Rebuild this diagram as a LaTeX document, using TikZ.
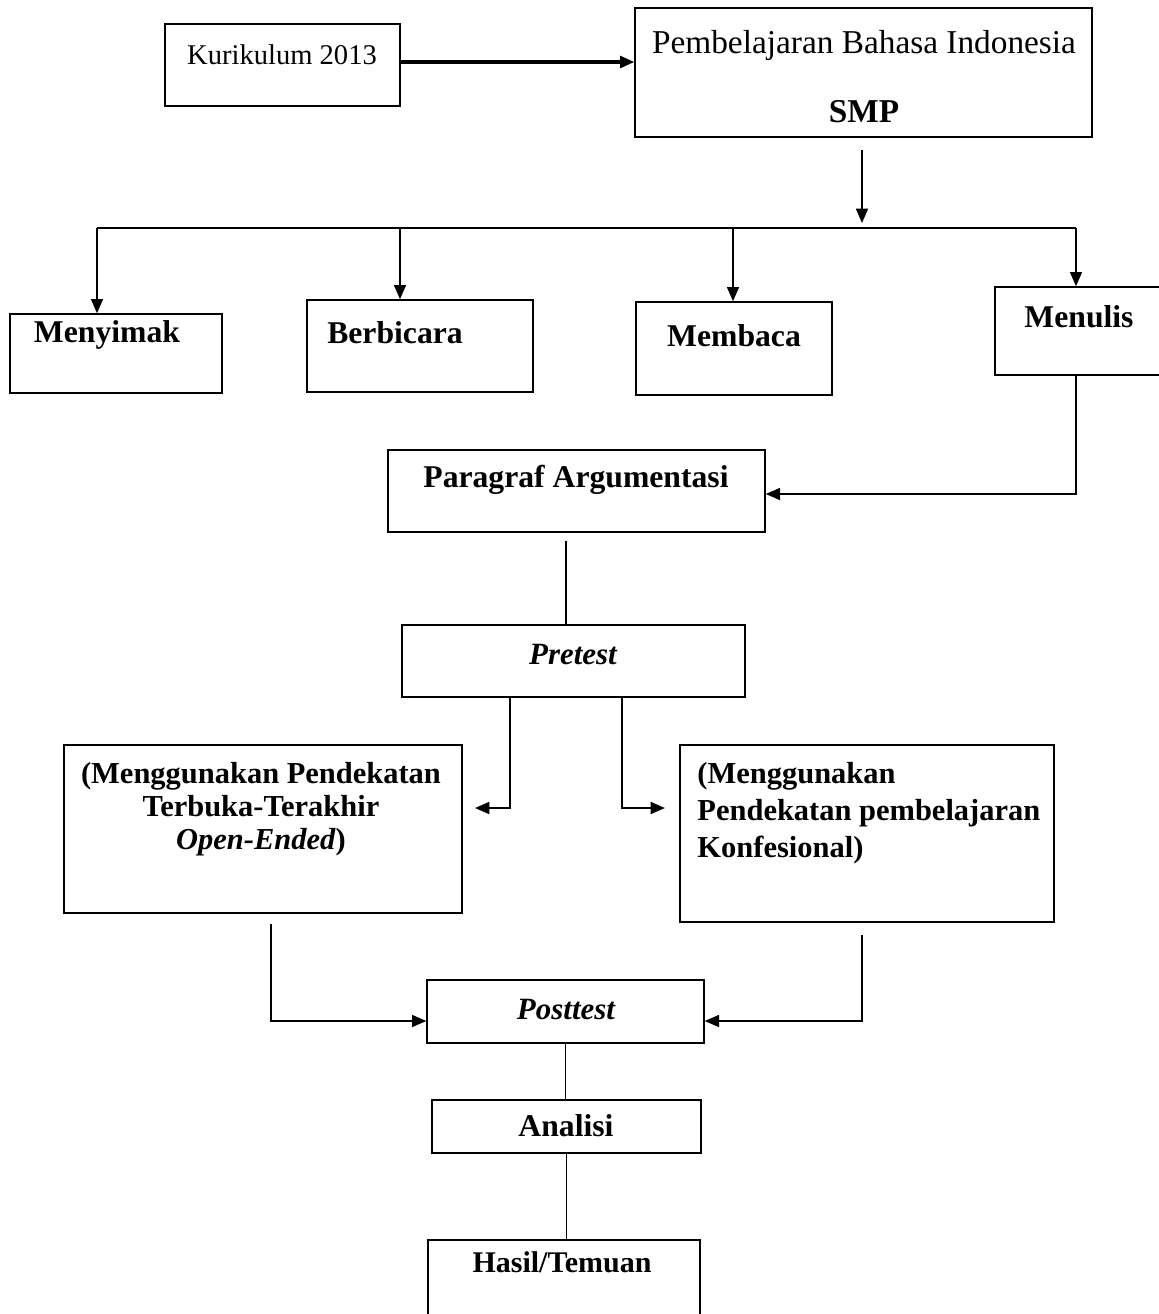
\documentclass[tikz,border=0pt]{standalone}
\usepackage{fontspec}
\setmainfont{Liberation Serif}
\usetikzlibrary{positioning,fit,arrows.meta}

\tikzset{
  box/.style={draw, line width=0.6pt, inner sep=0pt},
  txt/.style={inner sep=0pt, font=\fontsize{12}{14}\selectfont},
  btxt/.style={inner sep=0pt, font=\fontsize{13.3}{16}\selectfont\bfseries},
  arr/.style={line width=0.8pt, -{Triangle[length=6pt,width=5pt]}},
  con/.style={line width=0.6pt},
}

\begin{document}
\begin{tikzpicture}[x=0.42pt, y=-0.42pt]
\useasboundingbox (0,0) rectangle (1159,1314);
\def\xm{566}

% top
\node[box, fit={(165,24) (400,106)}] (kur) {};
\node[txt] (kurt) at (282,55) {Kurikulum 2013};
\node[box, fit={(635,8) (1092,137)}] (pem) {};
\node[txt, font=\fontsize{14}{16}\selectfont] (pemt) at (864,45) {Pembelajaran Bahasa Indonesia};
\node[btxt, font=\fontsize{14}{16}\selectfont\bfseries] (smp) at (864,112) {SMP};
\coordinate (k2p) at (0,62);
\draw[arr, line width=1.3pt] (kur.east |- k2p) -- (pem.west |- k2p);

\coordinate (pemout) at (862,150);
\coordinate (pemin) at (862,223);
\coordinate (busl) at (97,228);
\coordinate (busr) at (1076,228);
\draw[arr] (pemout) -- (pemin);
\draw[con] (busl) -- (busr);

% four skills
\node[box, fit={(10,314) (222,393)}] (nyi) {};
\node[btxt] (nyit) at (107,335) {Menyimak};
\node[box, fit={(307,300) (533,392)}] (bic) {};
\node[btxt] (bict) at (395,333) {Berbicara};
\node[box, fit={(636,302) (832,395)}] (bac) {};
\node[btxt] (bact) at (734,336) {Membaca};
\node[box, fit={(995,287) (1165,375)}] (tul) {};
\node[btxt] (tult) at (1079,317) {Menulis};

\foreach \n/\x in {nyi/97, bic/400, bac/733, tul/1076} {
  \coordinate (b\n) at (\x,228);
  \draw[arr] (b\n) -- (b\n |- \n.north);
}

\node[box, fit={(388,450) (765,532)}] (par) {};
\node[btxt] (part) at (576,480) {Paragraf Argumentasi};
\coordinate (pl0) at (0,494);
\draw[arr] (btul |- tul.south) |- (par.east |- pl0);

\node[box, fit={(402,625) (745,697)}] (pre) {};
\node[btxt, font=\fontsize{13}{16}\selectfont\bfseries\itshape] (pret) at (573,655) {Pretest};
\coordinate (parout) at (\xm,541);
\draw[con] (parout) -- (parout |- pre.north);

% two approaches
\node[box, fit={(64,745) (462,913)}] (oe) {};
\node[btxt, font=\fontsize{12.8}{13.9}\selectfont\bfseries, align=center, anchor=north] (oet) at (261,762)
  {(Menggunakan Pendekatan\\Terbuka-Terakhir\\\textit{Open-Ended})};
\node[box, fit={(680,745) (1054,922)}] (kon) {};
\node[btxt, font=\fontsize{12.8}{15.5}\selectfont\bfseries, align=left, anchor=north west] (kont) at (697,762)
  {(Menggunakan\\Pendekatan pembelajaran\\Konfesional)};

\coordinate (prel) at (541,697);
\coordinate (pl1) at (510,697);
\coordinate (oein) at (475,808);
\coordinate (prer) at (579,697);
\coordinate (pr1) at (622,697);
\coordinate (konin) at (665,808);
\draw[arr] (prel) -- (pl1) |- (oein);
\draw[arr] (prer) -- (pr1) |- (konin);

% bottom
\node[box, fit={(427,980) (704,1043)}] (post) {};
\node[btxt, font=\fontsize{13}{16}\selectfont\bfseries\itshape] (postt) at (566,1010) {Posttest};
\coordinate (pl) at (0,1021);
\coordinate (oeout) at (271,924);
\coordinate (konout) at (862,935);
\draw[arr] (oeout) |- (post.west |- pl);
\draw[arr] (konout) |- (post.east |- pl);

\node[box, fit={(432,1100) (701,1153)}] (ana) {};
\node[btxt] (anat) at (566,1126) {Analisi};
\node[box, fit={(428,1240) (700,1330)}] (has) {};
\node[btxt, font=\fontsize{12.6}{16}\selectfont\bfseries] (hast) at (562,1262) {Hasil/Temuan};

\draw[con] (post.south) -- (post.south |- ana.north);
\draw[con] (ana.south) -- (ana.south |- has.north);
\end{tikzpicture}
\end{document}
